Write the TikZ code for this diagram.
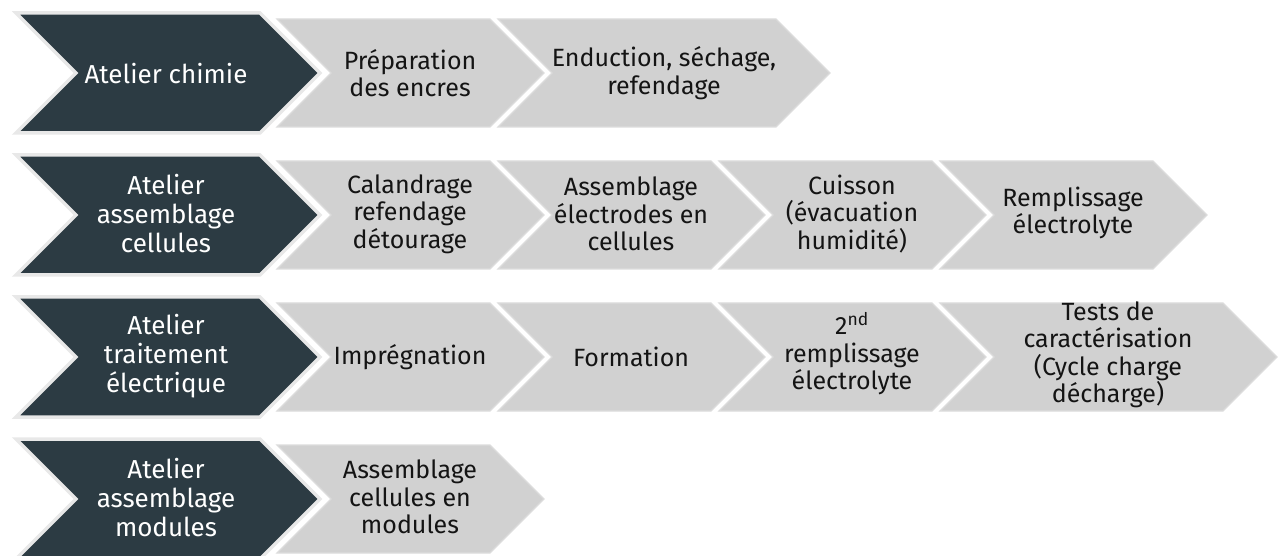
\documentclass[tikz,border=0pt]{standalone}
\usepackage{fontspec}
\setmainfont{Fira Sans}
\definecolor{darkfill}{HTML}{2C3B43}
\definecolor{darkedge}{HTML}{E8E8E8}
\definecolor{grayfill}{HTML}{D1D1D1}
\definecolor{grayedge}{HTML}{DCDCDC}
\definecolor{txtdark}{HTML}{141414}
\tikzset{
  darkchev/.style={fill=darkfill, draw=darkedge, line width=3.5pt, line join=miter},
  graychev/.style={fill=grayfill, draw=grayedge, line width=1.2pt, line join=miter},
  darktext/.style={text=white, align=center, font=\fontsize{26}{29}\selectfont, inner sep=0pt},
  graytext/.style={text=txtdark, align=center, font=\fontsize{25}{27.5}\selectfont, inner sep=0pt},
}
% #1 style, #2 left x, #3 body width, #4 centre y (downwards), #5 half height (= point depth)
\newcommand{\mychev}[5]{%
  \path[#1] (#2,{-(#4)+(#5)}) -- ({#2+#3},{-(#4)+(#5)}) -- ({#2+#3+#5},{-(#4)})
    -- ({#2+#3},{-(#4)-(#5)}) -- (#2,{-(#4)-(#5)}) -- ({#2+#5},{-(#4)}) -- cycle;}
\begin{document}
\begin{tikzpicture}[x=1pt,y=1pt]
\useasboundingbox (0,0) rectangle (1286,-556);
\clip (0,0) rectangle (1286,-556);
\fill[white] (0,0) rectangle (1286,-556);
% ---------- row 1
\mychev{darkchev}{16}{244}{73}{60}
\mychev{graychev}{277}{213}{73}{54}
\mychev{graychev}{498}{278}{73}{54}
\node[darktext] (a1) at (166,-74) {Atelier chimie};
\node[graytext] (a1s1) at (410,-73) {Préparation\\des encres};
\node[graytext] (a1s2) at (664,-73) {Enduction, séchage,\\refendage};
% ---------- row 2
\mychev{darkchev}{16}{244}{215}{60}
\mychev{graychev}{277}{213}{215}{54}
\mychev{graychev}{498}{213}{215}{54}
\mychev{graychev}{719}{213}{215}{54}
\mychev{graychev}{940}{213}{215}{54}
\node[darktext] (a2) at (166,-214) {Atelier\\assemblage\\cellules};
\node[graytext] (a2s1) at (410,-214) {Calandrage\\refendage\\détourage};
\node[graytext] (a2s2) at (631,-214) {Assemblage\\électrodes en\\cellules};
\node[graytext] (a2s3) at (852,-214) {Cuisson\\(évacuation\\humidité)};
\node[graytext] (a2s4) at (1073,-213) {Remplissage\\électrolyte};
% ---------- row 3
\mychev{darkchev}{16}{244}{357}{60}
\mychev{graychev}{277}{213}{357}{54}
\mychev{graychev}{498}{213}{357}{54}
\mychev{graychev}{719}{213}{357}{54}
\mychev{graychev}{940}{283}{357}{54}
\node[darktext] (a3) at (166,-356) {Atelier\\traitement\\électrique};
\node[graytext] (a3s1) at (410,-357) {Imprégnation};
\node[graytext] (a3s2) at (631,-357) {Formation};
\node[graytext] (a3s3) at (852,-354) {2\textsuperscript{nd}\\remplissage\\électrolyte};
\node[graytext] (a3s4) at (1108,-355) {Tests de\\caractérisation\\(Cycle charge\\décharge)};
% ---------- row 4
\mychev{darkchev}{16}{244}{499}{60}
\mychev{graychev}{277}{213}{499}{54}
\node[darktext] (a4) at (166,-498) {Atelier\\assemblage\\modules};
\node[graytext] (a4s1) at (410,-497) {Assemblage\\cellules en\\modules};
\end{tikzpicture}
\end{document}
